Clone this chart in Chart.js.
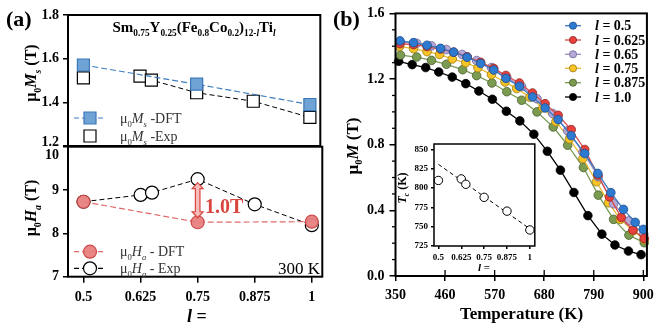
<!DOCTYPE html>
<html><head><meta charset="utf-8">
<script src="https://cdn.jsdelivr.net/npm/chart.js@4.4.1/dist/chart.umd.min.js"></script>
<style>body{margin:0;background:#fff}#wrap{position:relative;width:660px;height:330px;background:#fff;overflow:hidden}canvas{position:absolute}</style>
</head><body>
<div id="wrap">
<canvas id="cA1" width="330" height="165" style="left:0;top:0"></canvas>
<canvas id="cA2" width="330" height="200" style="left:0;top:130px"></canvas>
<canvas id="cB" width="330" height="330" style="left:330px;top:0"></canvas>
<canvas id="cI" width="150" height="150" style="left:390px;top:130px"></canvas>
</div>
<script>
// ---------- data ----------
const lVals = [0.5, 0.625, 0.65, 0.75, 0.875, 1];
const lTicks = [0.5, 0.625, 0.75, 0.875, 1];
const lTickLabels = ['0.5', '0.625', '0.75', '0.875', '1'];
const dftL = [0.5, 0.75, 1];
const msDft = [1.571, 1.483, 1.39];
const msExp = [1.512, 1.52, 1.502, 1.444, 1.405, 1.331];
const haDft = [8.73, 8.256, 8.27];
const haExp = [8.73, 8.887, 8.94, 9.25, 8.67, 8.19];
const msTicks = [1.2, 1.4, 1.6, 1.8];
const haTicks = [7, 8, 9, 10];

const tcExp = [810, 812, 805, 788, 770, 745.5];
const tcFitL = [0.5, 1];
const tcFit = [831, 747];
const tcTicks = [725, 750, 775, 800, 825, 850];

const tempTicks = [350, 460, 570, 680, 790, 900];
const mTicks = [0, 0.4, 0.8, 1.2, 1.6];
const seriesNames = ['0.5', '0.625', '0.65', '0.75', '0.875', '1.0'];
const tempL05 = [360,390,420,450,479,509,539,568,595,625,654,682,711,740,770,799,828,856,882,900];
const mL05 = [1.433,1.422,1.406,1.387,1.364,1.333,1.295,1.255,1.204,1.156,1.091,1.024,0.953,0.855,0.746,0.625,0.508,0.406,0.327,0.284];
const tempL0625 = [360,390,420,450,479,509,539,568,595,625,654,682,711,740,770,799,825,851,877,902];
const mL0625 = [1.415,1.410,1.398,1.383,1.364,1.336,1.302,1.265,1.222,1.176,1.115,1.050,0.979,0.892,0.771,0.615,0.482,0.357,0.280,0.229];
const tempL065 = [360,397,430,463,498,530,563,597,630,664,699,732,766,800,834,868,901];
const mL065 = [1.425,1.418,1.402,1.380,1.350,1.313,1.270,1.210,1.155,1.080,0.990,0.885,0.755,0.605,0.440,0.336,0.255];
const tempL075 = [359,390,420,448,476,506,533,563,593,619,648,677,706,736,766,796,823,849,877,902];
const mL075 = [1.399,1.385,1.367,1.350,1.322,1.300,1.269,1.227,1.182,1.142,1.090,1.025,0.940,0.835,0.716,0.574,0.446,0.345,0.275,0.222];
const tempL0875 = [361,397,430,463,499,530,564,597,630,664,700,732,767,800,834,868,902];
const mL0875 = [1.346,1.334,1.314,1.290,1.257,1.221,1.176,1.123,1.071,1.000,0.908,0.797,0.661,0.493,0.345,0.249,0.203];
const tempL10 = [357,387,417,446,476,506,535,565,596,626,657,687,716,746,777,808,837,867,895];
const mL10 = [1.308,1.288,1.270,1.243,1.212,1.172,1.127,1.077,1.004,0.945,0.864,0.760,0.645,0.509,0.368,0.255,0.189,0.152,0.130];

// ---------- helpers ----------
const FONT = '"Liberation Serif","Times New Roman",serif';
Chart.defaults.font.family = FONT;
Chart.defaults.color = '#000';
const pts = (xs, ys) => xs.map((x, i) => ({x, y: ys[i]}));

function rich(ctx, runs, x, y, o) {
  o = o || {};
  const size = o.size || 14, bold = o.bold !== false;
  const f = r => `${r.i ? 'italic ' : ''}${(r.b !== undefined ? r.b : bold) ? 'bold ' : ''}${((r.sub ? 0.62 : 1) * size).toFixed(1)}px ${FONT}`;
  ctx.save();
  ctx.translate(x, y);
  if (o.rot) ctx.rotate(o.rot);
  let total = 0;
  const ws = runs.map(r => { ctx.font = f(r); const w = ctx.measureText(r.t).width; total += w; return w; });
  let cx = o.align === 'center' ? -total / 2 : o.align === 'right' ? -total : 0;
  ctx.fillStyle = o.color || '#000';
  ctx.textBaseline = 'alphabetic'; ctx.textAlign = 'left';
  const by = size * 0.34;
  runs.forEach((r, k) => { ctx.font = f(r); ctx.fillText(r.t, cx, by + (r.sub ? size * 0.27 : 0)); cx += ws[k]; });
  ctx.restore();
}
function frame(ctx, a, lw) {
  ctx.save(); ctx.lineWidth = lw; ctx.strokeStyle = '#000';
  ctx.strokeRect(a.left, a.top, a.right - a.left, a.bottom - a.top); ctx.restore();
}
function plainLabel(ctx, t, x, y, size) {
  ctx.save(); ctx.font = `bold ${size}px ${FONT}`; ctx.fillStyle = '#000';
  ctx.textAlign = 'right'; ctx.textBaseline = 'middle'; ctx.fillText(t, x, y); ctx.restore();
}
function dashLine(ctx, x1, x2, y, color, dash) {
  ctx.save(); ctx.strokeStyle = color; ctx.lineWidth = 1.2; ctx.setLineDash(dash);
  ctx.beginPath(); ctx.moveTo(x1, y); ctx.lineTo(x2, y); ctx.stroke(); ctx.restore();
}
function marker(ctx, shape, x, y, r, fill, stroke, lw) {
  ctx.save(); ctx.fillStyle = fill; ctx.strokeStyle = stroke; ctx.lineWidth = lw; ctx.setLineDash([]);
  ctx.beginPath();
  if (shape === 'rect') ctx.rect(x - r, y - r, 2 * r, 2 * r); else ctx.arc(x, y, r, 0, Math.PI * 2);
  ctx.fill(); ctx.stroke(); ctx.restore();
}
function yAxis(min, max, width, ticks, labels, tl, pad, size) {
  return {
    type: 'linear', min, max,
    afterFit: s => { s.width = width; },
    afterBuildTicks: s => { s.ticks = ticks.map(v => ({value: v})); },
    border: {display: false},
    grid: {drawOnChartArea: false, drawTicks: true, tickLength: tl, color: '#000', lineWidth: 1.5},
    ticks: {padding: pad, font: {size, weight: 'bold'}, color: '#000', callback: (v, i) => labels[i]}
  };
}
function xAxis(min, max, height, ticks, labels, tl, pad, size) {
  return {
    type: 'linear', min, max,
    afterFit: s => { s.height = height; },
    afterBuildTicks: s => { s.ticks = ticks.map(v => ({value: v})); },
    border: {display: false},
    grid: {drawOnChartArea: false, drawTicks: true, tickLength: tl, color: '#000', lineWidth: 1.5},
    ticks: {padding: pad, font: {size, weight: 'bold'}, color: '#000', maxRotation: 0, autoSkip: false, callback: (v, i) => labels[i]}
  };
}
const baseOpts = {responsive: false, animation: false, devicePixelRatio: 1,
  plugins: {legend: {display: false}, tooltip: {enabled: false}}};

const LMIN = 0.466, LMAX = 1.023;

// ---------- panel (a) top: Ms ----------
new Chart(document.getElementById('cA1'), {
  type: 'scatter',
  data: {datasets: [
    {data: pts(dftL, msDft), showLine: true, borderColor: '#3f7fc0', borderDash: [6, 3], borderWidth: 1.2,
     pointStyle: 'rect', pointRadius: 8.5, pointBackgroundColor: '#6fa3d6', pointBorderColor: '#3a78b8', pointBorderWidth: 1.2, clip: false},
    {data: pts(lVals, msExp), showLine: true, borderColor: '#000', borderDash: [5, 3], borderWidth: 1,
     segment: {borderColor: c => c.p0DataIndex === 0 ? 'rgba(0,0,0,0)' : '#000'},
     pointStyle: 'rect', pointRadius: 8.5, pointBackgroundColor: '#fff', pointBorderColor: '#000', pointBorderWidth: 1.2, clip: false}
  ]},
  options: {...baseOpts,
    layout: {padding: {top: 15, right: 5, bottom: 19, left: 0}},
    scales: {
      x: {type: 'linear', min: LMIN, max: LMAX, display: false},
      y: yAxis(1.2, 1.8, 68, msTicks, ['', '1.4', '1.6', '1.8'], 5, 4, 14)
    }
  },
  plugins: [{id: 'decoA1', afterDraw(chart) {
    const ctx = chart.ctx, a = chart.chartArea;
    frame(ctx, a, 2);
    plainLabel(ctx, '1.2', 59, 142.5, 14);
    rich(ctx, [{t: '(a)'}], 6, 19, {size: 22});
    rich(ctx, [{t: 'Sm'}, {t: '0.75', sub: 1}, {t: 'Y'}, {t: '0.25', sub: 1}, {t: '(Fe'}, {t: '0.8', sub: 1}, {t: 'Co'}, {t: '0.2', sub: 1}, {t: ')'}, {t: '12-', sub: 1}, {t: 'l', sub: 1, i: 1}, {t: 'Ti'}, {t: 'l', sub: 1, i: 1}],
      194, 27, {size: 15, align: 'center'});
    rich(ctx, [{t: 'μ'}, {t: '0', sub: 1}, {t: 'M', i: 1}, {t: 's', sub: 1, i: 1}, {t: ' (T)'}], 31, 73, {size: 16, align: 'center', rot: -Math.PI / 2});
    // legend
    dashLine(ctx, 74, 106, 118, '#3f7fc0', [5, 3]);
    marker(ctx, 'rect', 90, 118, 6, '#6fa3d6', '#3a78b8', 1.2);
    rich(ctx, [{t: 'μ'}, {t: '0', sub: 1}, {t: 'M', i: 1}, {t: 's', sub: 1, i: 1}, {t: ' -DFT'}], 120, 118, {size: 14, bold: false, color: '#333'});
    marker(ctx, 'rect', 90, 136, 6, '#fff', '#000', 1.2);
    rich(ctx, [{t: 'μ'}, {t: '0', sub: 1}, {t: 'M', i: 1}, {t: 's', sub: 1, i: 1}, {t: ' -Exp'}], 120, 136, {size: 14, bold: false, color: '#333'});
  }}]
});

// ---------- panel (a) bottom: Ha ----------
new Chart(document.getElementById('cA2'), {
  type: 'scatter',
  data: {datasets: [
    {data: pts(dftL, haDft), showLine: true, borderColor: '#e06a6a', borderDash: [6, 3], borderWidth: 1.2,
     pointRadius: 6.5, pointBackgroundColor: 'rgba(232,128,128,0.95)', pointBorderColor: '#cf4a4a', pointBorderWidth: 1.2, clip: false},
    {data: pts(lVals, haExp), showLine: true, borderColor: '#000', borderDash: [5, 3], borderWidth: 1,
     pointRadius: 6.5, pointBackgroundColor: '#fff', pointBorderColor: '#000', pointBorderWidth: 1.2, clip: false}
  ]},
  options: {...baseOpts,
    layout: {padding: {top: 16.7, right: 5, bottom: 0, left: 0}},
    scales: {
      x: xAxis(LMIN, LMAX, 53.3, lTicks, lTickLabels, 6, 6, 14),
      y: yAxis(7, 10, 68, haTicks, ['7', '8', '9', ''], 5, 4, 14)
    }
  },
  plugins: [{id: 'decoA2', afterDraw(chart) {
    const ctx = chart.ctx, a = chart.chartArea;
    const xs = chart.scales.x, ys = chart.scales.y;
    frame(ctx, a, 2);
    plainLabel(ctx, '10', 59, 25, 14);
    rich(ctx, [{t: 'μ'}, {t: '0', sub: 1}, {t: 'H', i: 1}, {t: 'a', sub: 1, i: 1}, {t: ' (T)'}], 31, 78, {size: 16, align: 'center', rot: -Math.PI / 2});
    rich(ctx, [{t: 'l', i: 1}, {t: ' ='}], 197, 186, {size: 18, align: 'center'});
    // arrow
    const x = xs.getPixelForValue(0.75), y1 = ys.getPixelForValue(9.17), y2 = ys.getPixelForValue(8.36);
    ctx.save();
    ctx.beginPath();
    ctx.moveTo(x, y1); ctx.lineTo(x + 5.5, y1 + 6); ctx.lineTo(x + 2.3, y1 + 6); ctx.lineTo(x + 2.3, y2 - 6);
    ctx.lineTo(x + 5.5, y2 - 6); ctx.lineTo(x, y2); ctx.lineTo(x - 5.5, y2 - 6); ctx.lineTo(x - 2.3, y2 - 6);
    ctx.lineTo(x - 2.3, y1 + 6); ctx.lineTo(x - 5.5, y1 + 6); ctx.closePath();
    ctx.fillStyle = '#f6bcbc'; ctx.fill(); ctx.strokeStyle = '#d9463f'; ctx.lineWidth = 1.2; ctx.stroke();
    ctx.restore();
    rich(ctx, [{t: '1.0T'}], 205, 76, {size: 20, color: '#d9463f'});
    // legend
    dashLine(ctx, 74, 106, 121.7, '#e06a6a', [5, 3]);
    marker(ctx, 'circle', 90, 121.7, 6.5, 'rgba(232,128,128,0.95)', '#cf4a4a', 1.2);
    rich(ctx, [{t: 'μ'}, {t: '0', sub: 1}, {t: 'H', i: 1}, {t: 'a', sub: 1, i: 1}, {t: ' - DFT'}], 120, 121.7, {size: 14, bold: false, color: '#333'});
    dashLine(ctx, 74, 106, 138.3, '#000', [5, 3]);
    marker(ctx, 'circle', 90, 138.3, 6.5, '#fff', '#000', 1.2);
    rich(ctx, [{t: 'μ'}, {t: '0', sub: 1}, {t: 'H', i: 1}, {t: 'a', sub: 1, i: 1}, {t: ' - Exp'}], 120, 138.3, {size: 14, bold: false, color: '#333'});
    rich(ctx, [{t: '300 K'}], 320, 138, {size: 17, bold: false, align: 'right'});
  }}]
});

// ---------- panel (b) ----------
const seriesStyle = [
  {fill: '#2f7ad1', line: '#3b78c3', edge: '#1d4f8e'},
  {fill: '#e8413c', line: '#d84a4a', edge: '#8e2323'},
  {fill: '#b5a8d8', line: '#9c8fc7', edge: '#6f6494'},
  {fill: '#f7c325', line: '#e8b92e', edge: '#9b7a12'},
  {fill: '#7a9b50', line: '#789a55', edge: '#4b5f30'},
  {fill: '#000000', line: '#000000', edge: '#000000'}
];
const seriesData = [pts(tempL05, mL05), pts(tempL0625, mL0625), pts(tempL065, mL065), pts(tempL075, mL075), pts(tempL0875, mL0875), pts(tempL10, mL10)];
new Chart(document.getElementById('cB'), {
  type: 'scatter',
  data: {datasets: seriesData.map((d, k) => ({
    label: 'l = ' + seriesNames[k], data: d, showLine: true, tension: 0,
    borderColor: seriesStyle[k].line, borderWidth: 1.3,
    pointRadius: 4.3, pointBackgroundColor: seriesStyle[k].fill, pointBorderColor: seriesStyle[k].edge, pointBorderWidth: 0.8,
    clip: false
  }))},
  options: {...baseOpts,
    layout: {padding: {top: 12.5, right: 12.5, bottom: 0, left: 0}},
    scales: {
      x: xAxis(350, 908, 54, tempTicks, tempTicks.map(String), 5, 6, 14),
      y: yAxis(0, 1.6, 65.5, mTicks, mTicks.map(v => v.toFixed(1)), 6, 5, 14)
    }
  },
  plugins: [{id: 'decoB', afterDraw(chart) {
    const ctx = chart.ctx, a = chart.chartArea;
    const xs = chart.scales.x, ys = chart.scales.y;
    frame(ctx, a, 2);
    ctx.save(); ctx.strokeStyle = '#000'; ctx.lineWidth = 1.3;
    for (let v = 0.1; v < 1.6; v += 0.1) {
      if (Math.abs(v / 0.4 - Math.round(v / 0.4)) < 1e-6) continue;
      const y = ys.getPixelForValue(v);
      ctx.beginPath(); ctx.moveTo(a.left - 3.5, y); ctx.lineTo(a.left, y); ctx.stroke();
    }
    tempTicks.forEach(t => {
      const x = xs.getPixelForValue(t);
      ctx.beginPath(); ctx.moveTo(x, a.bottom); ctx.lineTo(x, a.bottom - 6); ctx.stroke();
    });
    ctx.restore();
    rich(ctx, [{t: '(b)'}], 3, 19, {size: 22});
    rich(ctx, [{t: 'μ'}, {t: '0', sub: 1}, {t: 'M', i: 1}, {t: ' (T)'}], 22, 146, {size: 17, align: 'center', rot: -Math.PI / 2});
    rich(ctx, [{t: 'Temperature (K)'}], 191.5, 313, {size: 17, align: 'center'});
    const rows = [25.7, 40, 54.3, 68.3, 82.7, 97];
    rows.forEach((y, k) => {
      const s = seriesStyle[k];
      ctx.save(); ctx.strokeStyle = s.line; ctx.lineWidth = 1.3;
      ctx.beginPath(); ctx.moveTo(235, y); ctx.lineTo(251, y); ctx.stroke(); ctx.restore();
      marker(ctx, 'circle', 243, y, 3.6, s.fill, s.edge, 0.8);
      rich(ctx, [{t: 'l', i: 1}, {t: ' = ' + seriesNames[k]}], 265, y, {size: 14});
    });
  }}]
});

// ---------- inset ----------
new Chart(document.getElementById('cI'), {
  type: 'scatter',
  data: {datasets: [
    {data: pts(lVals, tcExp), showLine: false, pointRadius: 4.2, pointBackgroundColor: '#fff', pointBorderColor: '#000', pointBorderWidth: 1, clip: false},
    {data: pts(tcFitL, tcFit), showLine: true, borderColor: '#000', borderDash: [4, 3], borderWidth: 1, pointRadius: 0}
  ]},
  options: {...baseOpts,
    layout: {padding: {top: 14, right: 5, bottom: 0, left: 0}},
    scales: {
      x: xAxis(0.476, 1.027, 34, lTicks, lTickLabels, 3, 3, 9),
      y: yAxis(724.6, 857.5, 44, tcTicks, tcTicks.map(String), 3, 3, 9)
    }
  },
  plugins: [{id: 'decoI',
    beforeDatasetsDraw(chart) {
      const ctx = chart.ctx, a = chart.chartArea;
      ctx.save(); ctx.fillStyle = '#fff'; ctx.fillRect(a.left, a.top, a.right - a.left, a.bottom - a.top); ctx.restore();
    },
    afterDraw(chart) {
      const ctx = chart.ctx, a = chart.chartArea;
      frame(ctx, a, 1.5);
      rich(ctx, [{t: 'T', i: 1}, {t: 'c', sub: 1, i: 1}, {t: ' (K)'}], 12, 58, {size: 12, align: 'center', rot: -Math.PI / 2});
      rich(ctx, [{t: 'l', i: 1}, {t: ' ='}], 94, 137, {size: 11, align: 'center'});
    }
  }]
});
</script>
</body></html>
